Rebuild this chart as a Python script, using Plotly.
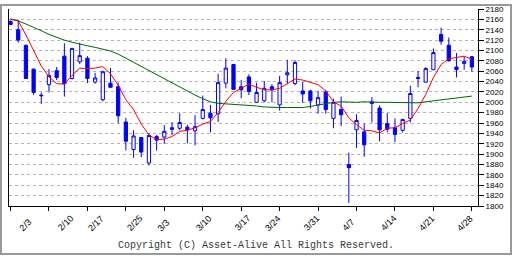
import pandas as pd
import plotly.graph_objects as go

# ---- data -------------------------------------------------------------
holidays = ["2025-02-11", "2025-02-24", "2025-03-20", "2025-04-29"]
trading_days = [d for d in pd.bdate_range("2025-01-30", "2025-04-30")
                if d.strftime("%Y-%m-%d") not in holidays]
dates = [d.strftime("%Y-%m-%d") for d in trading_days]

opens = [2156, 2140, 2110, 2064, 2012.5, 2034, 2061, 2089, 2046, 2078,
         2085, 2039, 2005, 2037, 2030, 1962, 1909, 1932, 1883, 1934,
         1933, 1951, 1950, 1952, 1945, 1969, 1979, 1978, 2037, 2073,
         2030, 2049, 2000, 2003, 2030, 1995, 2053, 2036, 2022, 2022,
         1995, 2020, 1969, 1986, 1880, 1947, 1943, 2001, 1989, 1959,
         1951, 1946, 1969, 2048, 2039, 2063, 2131, 2110, 2068, 2075, 2088]
highs = [2158, 2159, 2111, 2065, 2019, 2064, 2068, 2114, 2104, 2115,
         2089, 2057, 2061, 2066, 2038, 1970, 1946, 1933, 1940, 1937,
         1956, 1962, 1979, 1957, 1975, 2013, 1995, 2055, 2085, 2074,
         2043, 2054, 2038, 2041, 2035, 2051, 2082, 2081, 2040, 2024,
         2022, 2024, 2007, 2011, 1903, 1977, 1959, 2010, 1994, 1979,
         1969, 1968, 2032, 2060, 2068, 2104, 2144, 2125, 2095, 2089, 2089]
lows = [2149, 2115, 2046, 2014, 1997, 2019, 2043, 2011, 2044, 2074,
        2037, 2036, 2002, 2029, 1960, 1907, 1893, 1894, 1878, 1907,
        1920, 1937, 1946, 1921, 1917, 1967, 1942, 1962, 2027, 2024,
        2008, 2014, 2000, 2000, 2000, 1984, 2035, 2033, 1999, 1988,
        1978, 1978, 1950, 1954, 1806, 1912, 1895, 1961, 1925, 1942,
        1923, 1942, 1961, 2029, 2038, 2062, 2111, 2079, 2048, 2063, 2059]
closes = [2150, 2120, 2046, 2019, 2013.5, 2052, 2048, 2036, 2104, 2090,
          2046, 2047, 2059, 2029, 1974, 1925, 1935, 1904, 1936, 1927,
          1944, 1948, 1961, 1947, 1953, 1986, 1970, 2038, 2066, 2025,
          2024, 2021, 2019, 2027, 2024, 2038, 2057, 2077, 2016, 2003,
          2009, 1986, 2000, 1976, 1874, 1965, 1918, 1998, 1947, 1948,
          1938, 1967, 2017, 2046, 2065, 2096, 2118, 2080, 2063, 2079, 2068]
ma_short = [2160, 2157, 2130, 2101, 2070, 2049, 2036, 2035, 2052, 2066,
            2065, 2066, 2069, 2055, 2033, 2005, 1986, 1958, 1937, 1928,
            1929, 1934, 1944, 1946, 1951, 1958, 1963, 1980, 2002, 2019,
            2027, 2035, 2029, 2024, 2024, 2027, 2036, 2045, 2043, 2038,
            2034, 2022, 2001, 1993, 1970, 1957, 1946, 1945, 1941, 1950,
            1951, 1959, 1966, 1988, 2015, 2048, 2073, 2084, 2087, 2089, 2083]
ma_long = [2161, 2157, 2151, 2145, 2138, 2131, 2125, 2120, 2116, 2112,
           2109, 2106, 2103, 2099, 2093, 2085, 2077, 2069, 2061, 2053,
           2045, 2037, 2029, 2022, 2014, 2007, 2001, 1998, 1997, 1997,
           1996, 1995, 1993, 1991, 1990, 1990, 1990, 1990, 1990, 1992,
           1995, 1997, 2000, 2001, 2000, 2000, 2001, 2000, 2000, 2000,
           2000, 2000, 1999, 1999, 2001, 2003, 2005, 2007, 2009, 2010, 2012]

label_dates = ["2025-02-03", "2025-02-10", "2025-02-17", "2025-02-25",
               "2025-03-03", "2025-03-10", "2025-03-17", "2025-03-24",
               "2025-03-31", "2025-04-07", "2025-04-14", "2025-04-21",
               "2025-04-28"]
y_ticks = list(range(1800, 2181, 20))
copyright_text = "Copyright (C) Asset-Alive All Rights Reserved."

# ---- layout geometry --------------------------------------------------
FW, FH = 512, 256
ML, MR, MT, MB = 9, 34, 5, 50
PW, PH = FW - ML - MR, FH - MT - MB

def py(px):  # pixel row -> paper y
    return (FH - MB - px) / PH

fig = go.Figure()
fig.add_trace(go.Scatter(x=dates, y=ma_long, mode="lines",
                         line=dict(color="#006600", width=1), hoverinfo="skip"))
fig.add_trace(go.Scatter(x=dates, y=ma_short, mode="lines",
                         line=dict(color="#ff0000", width=1), hoverinfo="skip"))
fig.add_trace(go.Candlestick(
    x=dates, open=opens, high=highs, low=lows, close=closes,
    increasing=dict(line=dict(color="#0000ff", width=1), fillcolor="#ffffff"),
    decreasing=dict(line=dict(color="#0000ff", width=1), fillcolor="#0000ff"),
    whiskerwidth=0,
))

annotations = []
for d in label_dates:
    ts = pd.Timestamp(d)
    annotations.append(dict(
        x=d, xref="x", y=py(235), yref="paper",
        text=f"{ts.month}/{ts.day}", showarrow=False, textangle=-45,
        xanchor="left", yanchor="bottom", xshift=-10, borderpad=0,
        font=dict(family="Liberation Sans", size=9, color="#000000"),
    ))
annotations.append(dict(
    x=(256 - ML) / PW, xref="paper", y=py(246), yref="paper",
    text=copyright_text, showarrow=False, xanchor="center", yanchor="middle",
    font=dict(family="Liberation Mono", size=10, color="#3a3a3a"),
))

fig.update_layout(
    width=FW, height=FH, margin=dict(l=ML, r=MR, t=MT, b=MB, pad=0),
    paper_bgcolor="#ffffff", plot_bgcolor="#ffffff", showlegend=False,
    boxgap=0.4,
    xaxis=dict(type="category", range=[-0.2, 60.8], showline=True,
               linecolor="#000000", linewidth=1, ticks="outside", ticklen=4,
               tickcolor="#000000", tickvals=dates[::5],
               ticktext=[""] * len(dates[::5]), showgrid=False,
               zeroline=False, rangeslider=dict(visible=False),
               fixedrange=True),
    yaxis=dict(side="right", range=[1800, 2180], tickvals=y_ticks,
               ticks="outside", ticklen=5, tickcolor="#000000",
               showline=True, mirror=True, linecolor="#000000", linewidth=1,
               showgrid=True, gridcolor="#b4b4b4", griddash="3px,3px",
               gridwidth=1, zeroline=False, fixedrange=True,
               tickfont=dict(family="Liberation Sans", size=8, color="#000000")),
    annotations=annotations,
    shapes=[dict(type="rect", xref="paper", yref="paper",
                 x0=(-ML + 1) / PW, x1=1 + (MR - 1) / PW,
                 y0=(-MB + 1) / PH, y1=1 + (MT - 1) / PH,
                 line=dict(color="#999999", width=2), layer="above")],
)

fig.write_html("out.html")
